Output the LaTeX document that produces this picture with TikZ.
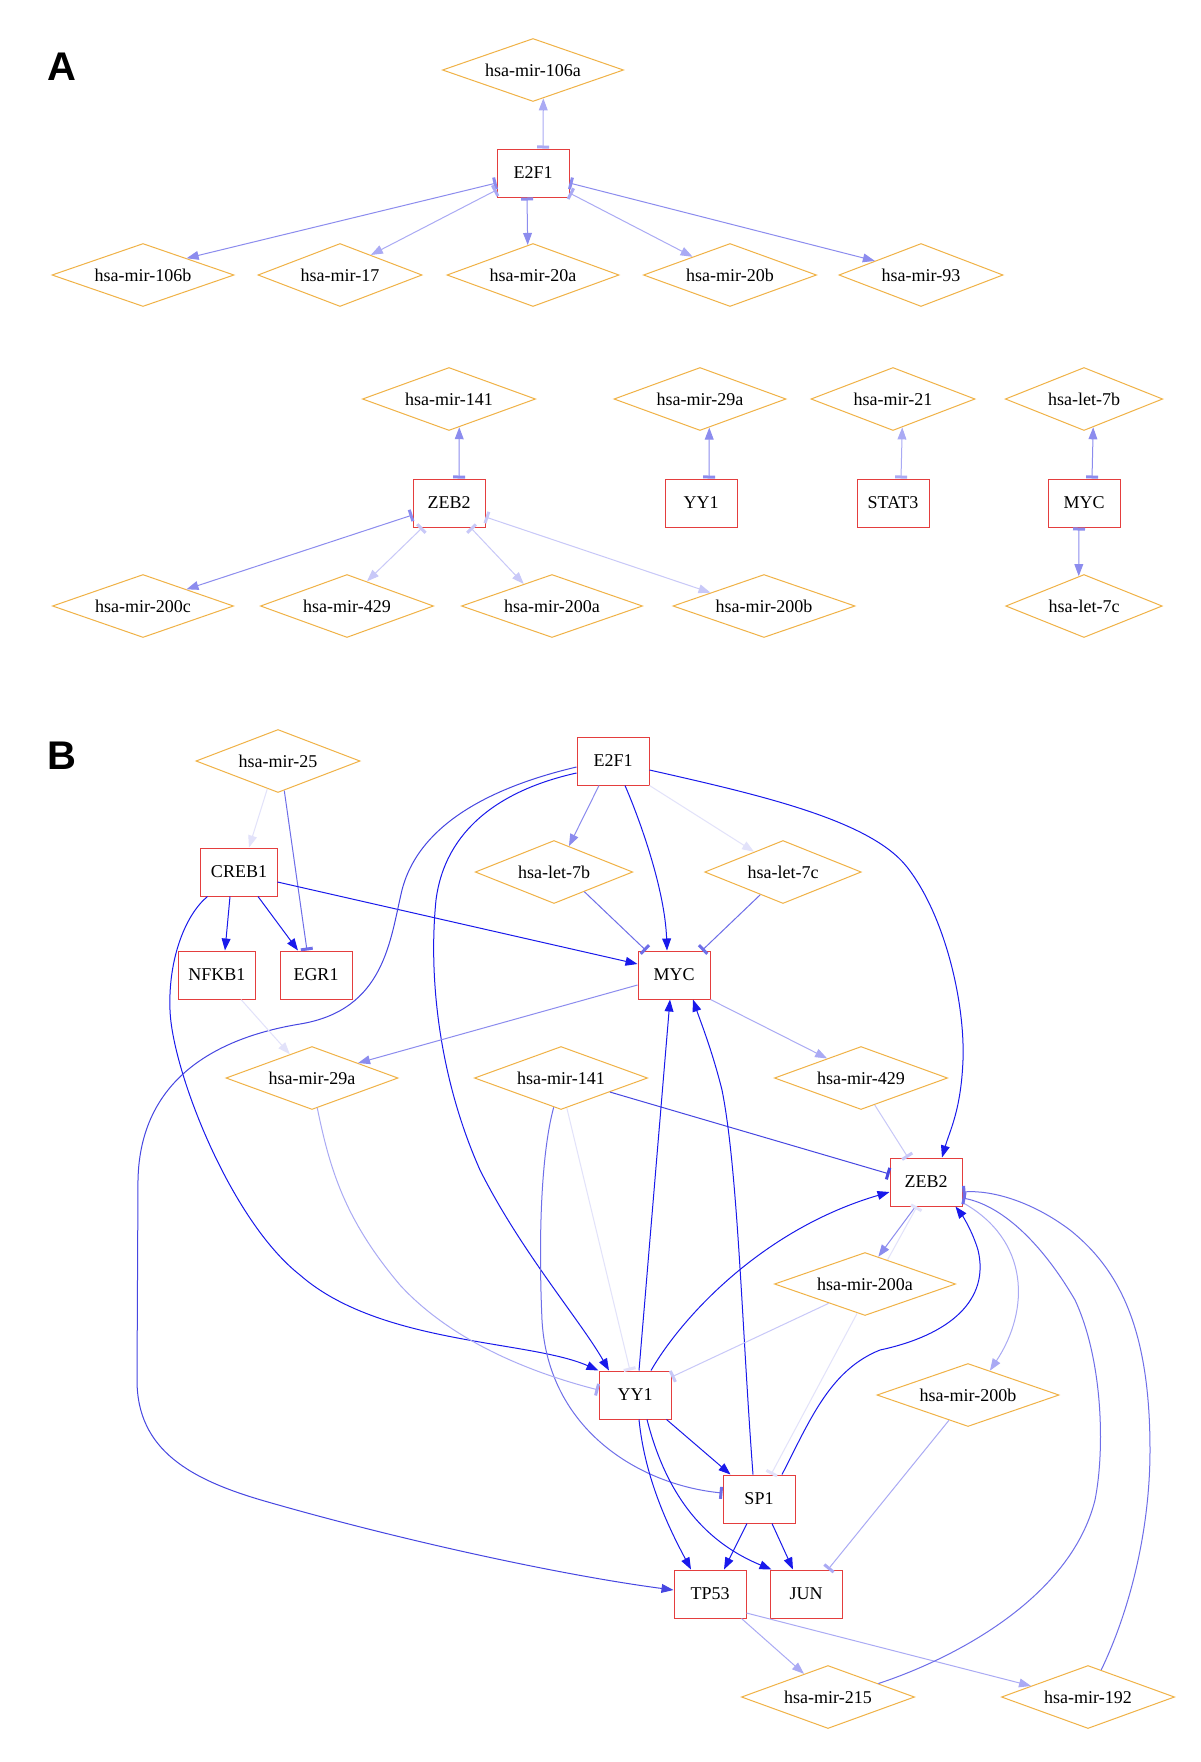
\documentclass[tikz,border=0pt]{standalone}
\usepackage{fontspec}
\setmainfont{Liberation Serif}
\newfontfamily\panelfont{Liberation Sans}
\usetikzlibrary{shapes.geometric, arrows.meta}

\definecolor{boxred}{RGB}{228,62,62}
\definecolor{mirorange}{RGB}{240,178,70}
\definecolor{bdark}{RGB}{25,25,235}
\definecolor{bmdark}{RGB}{70,70,225}
\definecolor{bmid}{RGB}{110,110,232}
\definecolor{bmlight}{RGB}{140,140,238}
\definecolor{blight}{RGB}{170,170,244}
\definecolor{bvlight}{RGB}{200,200,248}
\definecolor{bxlight}{RGB}{226,226,250}

\tikzset{
  gene/.style={draw=boxred, line width=0.5pt, minimum width=36pt, minimum height=24pt,
    inner xsep=5pt, font=\fontsize{9}{10}\selectfont},
  mirna/.style={draw=mirorange, line width=0.5pt, diamond, aspect=3.1, inner xsep=2pt,
    inner ysep=3pt, minimum height=31.5pt, text height=6.5pt, text depth=0pt,
    font=\fontsize{9}{10}\selectfont},
  act/.style={-{Triangle[length=6pt,width=4.4pt]}, line width=0.5pt},
  inh/.style={-{Bar[width=6pt,line width=1.5pt]}, line width=0.5pt},
  dual/.style={{Bar[width=6pt,line width=1.5pt]}-{Triangle[length=6pt,width=4.4pt]}, line width=0.5pt},
  panel/.style={font=\panelfont\bfseries\fontsize{20}{24}\selectfont}
}

\begin{document}
\begin{tikzpicture}[x=0.5pt, y=-0.5pt]
    \useasboundingbox[fill=white] (0,0) rectangle (1200,1762);

    % Panel labels
    \node[panel] (lblA) at (62,67) {A};
    \node[panel] (lblB) at (62,756) {B};

    % ---------------- Panel A ----------------
    % E2F1 cluster
    \node[mirna] (a-106a) at (533,70) {hsa-mir-106a};
    \node[gene] (a-E2F1) at (533,173) {E2F1};
    \foreach \n/\x in {106b/143, 17/340, 20a/533, 20b/730, 93/921} {
        \node[mirna] (a-\n) at (\x,275) {hsa-mir-\n};
    }

    % small clusters
    \foreach \n/\x in {141/449, 29a/700, 21/893} {
        \node[mirna] (a-\n) at (\x,399) {hsa-mir-\n};
    }
    \node[mirna] (a-let7b) at (1084,399) {hsa-let-7b};
    \foreach \n/\x in {ZEB2/449, YY1/701, STAT3/893, MYC/1084} {
        \node[gene] (a-\n) at (\x,503) {\n};
    }
    \foreach \n/\x in {200c/143, 429/347, 200a/552, 200b/764} {
        \node[mirna] (a-\n) at (\x,606) {hsa-mir-\n};
    }
    \node[mirna] (a-let7c) at (1084,606) {hsa-let-7c};

    % E2F1 links
    \draw[dual, blight] ([xshift=5pt]a-E2F1.north) -- (a-106a.-70);
    \draw[dual, bmlight] ([yshift=-5pt]a-E2F1.west) -- (a-106b.21);
    \draw[dual, blight] ([yshift=-8.5pt]a-E2F1.west) -- (a-17.33);
    \draw[dual, bmlight] ([xshift=-3pt]a-E2F1.south) -- (a-20a.100);
    \draw[dual, blight] ([yshift=-10pt]a-E2F1.east) -- (a-20b.154);
    \draw[dual, bmlight] ([yshift=-5pt]a-E2F1.east) -- (a-93.163);

    % ZEB2 links
    \draw[dual, bmlight] ([xshift=5pt]a-ZEB2.north) -- (a-141.-70);
    \draw[dual, bmlight] ([yshift=-6pt]a-ZEB2.west) -- (a-200c.21);
    \draw[dual, bvlight] ([xshift=5pt]a-ZEB2.south west) -- (a-429.51);
    \draw[dual, bvlight] ([xshift=-7.5pt]a-ZEB2.south east) -- (a-200a.142);
    \draw[dual, bvlight] ([yshift=-7pt]a-ZEB2.east) -- (a-200b.166);

    % single pairs
    \draw[dual, bmlight] ([xshift=4pt]a-YY1.north) -- (a-29a.-72);
    \draw[dual, blight] ([xshift=4pt]a-STAT3.north) -- (a-21.-72);
    \draw[dual, bmlight] ([xshift=4pt]a-MYC.north) -- (a-let7b.-72);
    \draw[dual, bmlight] ([xshift=-2.5pt]a-MYC.south) -- (a-let7c.100);

    % ---------------- Panel B ----------------
    \node[mirna] (b-25) at (278,761) {hsa-mir-25};
    \node[gene] (b-e2f1) at (613,761) {E2F1};
    \node[gene] (b-creb1) at (239,872) {CREB1};
    \node[mirna] (b-let7b) at (554,872) {hsa-let-7b};
    \node[mirna] (b-let7c) at (783,872) {hsa-let-7c};
    \node[gene] (b-nfkb1) at (217,975) {NFKB1};
    \node[gene] (b-egr1) at (316,975) {EGR1};
    \node[gene] (b-myc) at (674,975) {MYC};
    \node[mirna] (b-29a) at (312,1078) {hsa-mir-29a};
    \node[mirna] (b-141) at (561,1078) {hsa-mir-141};
    \node[mirna] (b-429) at (861,1078) {hsa-mir-429};
    \node[gene] (b-zeb2) at (926,1182) {ZEB2};
    \node[mirna] (b-200a) at (865,1284) {hsa-mir-200a};
    \node[gene] (b-yy1) at (635,1395) {YY1};
    \node[mirna] (b-200b) at (968,1395) {hsa-mir-200b};
    \node[gene] (b-sp1) at (759,1499) {SP1};
    \node[gene] (b-tp53) at (710,1594) {TP53};
    \node[gene] (b-jun) at (806,1594) {JUN};
    \node[mirna] (b-215) at (828,1697) {hsa-mir-215};
    \node[mirna] (b-192) at (1088,1697) {hsa-mir-192};

    % hsa-mir-25
    \draw[act, bxlight] (b-25.-111) -- ([xshift=5pt]b-creb1.north);
    \draw[inh, bmid] (b-25.-78) -- ([xshift=-4.5pt]b-egr1.north);

    % CREB1 targets
    \draw[act, bdark] ([xshift=-4.5pt]b-creb1.south) -- ([xshift=4pt]b-nfkb1.north);
    \draw[act, bdark] ([xshift=9.5pt]b-creb1.south) -- ([xshift=-9pt]b-egr1.north);
    \draw[act, bdark] ([yshift=-5pt]b-creb1.east) -- ([yshift=5.5pt]b-myc.west);
    \draw[act, bdark] ([xshift=3.5pt]b-creb1.south west) .. controls (185,915) and (168,960) .. (170,1010)
        .. controls (172,1070) and (230,1220) .. (300,1275)
        .. controls (380,1345) and (530,1340) .. (b-yy1.north west);

    % E2F1 targets
    \draw[act, bmlight] ([xshift=-7pt]b-e2f1.south) -- (b-let7b.60);
    \draw[act, bdark] ([xshift=6pt]b-e2f1.south) .. controls (640,820) and (665,890) .. ([xshift=-3.5pt]b-myc.north);
    \draw[act, bxlight] (b-e2f1.south east) -- (b-let7c.145);
    \draw[act, bdark] ([yshift=-4.5pt]b-e2f1.east) .. controls (760,795) and (870,820) .. (907,867)
        .. controls (944,914) and (965,1000) .. (963,1060)
        .. controls (961,1110) and (950,1130) .. ([xshift=8pt]b-zeb2.north);
    \draw[act, bmdark] ([yshift=-3pt]b-e2f1.west) .. controls (500,785) and (420,820) .. (402,890)
        .. controls (390,940) and (385,1010) .. (300,1024)
        .. controls (215,1038) and (140,1080) .. (138,1180) -- (137,1380)
        .. controls (137,1450) and (190,1480) .. (268,1502)
        .. controls (400,1540) and (560,1575) .. ([yshift=2pt]b-tp53.west);
    \draw[act, bdark] ([yshift=-6pt]b-e2f1.west) .. controls (500,790) and (445,830) .. (436,900)
        .. controls (428,980) and (440,1080) .. (480,1170)
        .. controls (520,1250) and (580,1320) .. ([xshift=-13pt]b-yy1.north);

    % let-7 on MYC
    \draw[inh, bmid] (b-let7b.-33) -- ([xshift=-14pt]b-myc.north);
    \draw[inh, bmid] (b-let7c.-135) -- ([xshift=14pt]b-myc.north);

    % towards hsa-mir-29a and hsa-mir-429
    \draw[act, bxlight] ([xshift=12pt]b-nfkb1.south) -- (b-29a.133);
    \draw[act, bmlight] ([yshift=-5pt]b-myc.west) -- (b-29a.18);
    \draw[act, blight] (b-myc.south east) -- (b-429.150);

    % miRNAs of the middle row
    \draw[inh, bmdark] (b-141.-16) -- ([yshift=4pt]b-zeb2.west);
    \draw[inh, bvlight] (b-429.-63) -- ([xshift=-9pt]b-zeb2.north);
    \draw[inh, bxlight] (b-141.-79) -- ([xshift=-2.5pt]b-yy1.north);
    \draw[inh, bmid] (b-141.-104) .. controls (542,1150) and (538,1230) .. (542,1320)
        .. controls (548,1430) and (640,1485) .. ([yshift=3pt]b-sp1.west);
    \draw[inh, blight] (b-29a.-80) .. controls (330,1170) and (345,1220) .. (400,1285)
        .. controls (455,1345) and (540,1375) .. ([yshift=2.5pt]b-yy1.west);

    % YY1 and SP1 upwards
    \draw[act, bdark] ([xshift=2pt]b-yy1.north) -- ([xshift=-2pt]b-myc.south);
    \draw[act, bdark] ([xshift=-3pt]b-sp1.north) .. controls (742,1330) and (738,1170) .. (722,1090)
        .. controls (712,1050) and (700,1020) .. ([xshift=9.5pt]b-myc.south);
    \draw[act, bdark] ([xshift=8pt]b-yy1.north) .. controls (680,1320) and (760,1230) .. ([yshift=-5pt]b-zeb2.west);
    \draw[act, bdark] ([xshift=11.5pt]b-sp1.north) .. controls (810,1420) and (830,1370) .. (880,1350)
        .. controls (950,1335) and (990,1300) .. (978,1250)
        .. controls (972,1230) and (962,1215) .. ([xshift=-3.5pt]b-zeb2.south east);

    % ZEB2 and the miR-200 family
    \draw[act, bmlight] ([xshift=13pt]b-zeb2.south west) -- (b-200a.64);
    \draw[inh, bxlight] (b-200a.47) -- ([xshift=-4.5pt]b-zeb2.south);
    \draw[act, blight] ([yshift=2pt]b-zeb2.south east) .. controls (1030,1240) and (1030,1310) .. (b-200b.48);
    \draw[inh, bvlight] (b-200a.-152) -- ([yshift=9pt]b-yy1.east);
    \draw[inh, bxlight] (b-200a.-105) -- ([xshift=6pt]b-sp1.north);

    % YY1 and SP1 downwards
    \draw[act, bdark] ([xshift=-2.5pt]b-yy1.south east) -- ([xshift=4pt]b-sp1.north west);
    \draw[act, bdark] ([xshift=2pt]b-yy1.south) .. controls (645,1480) and (670,1530) .. ([xshift=-9.5pt]b-tp53.north);
    \draw[act, bdark] ([xshift=6pt]b-yy1.south) .. controls (665,1490) and (700,1540) .. ([xshift=1pt]b-jun.north west);
    \draw[act, bdark] ([xshift=-6pt]b-sp1.south) -- ([xshift=7pt]b-tp53.north);
    \draw[act, bdark] ([xshift=6.5pt]b-sp1.south) -- ([xshift=-6.5pt]b-jun.north);
    \draw[inh, blight] (b-200b.-127) -- ([xshift=11pt]b-jun.north);

    % TP53 targets and feedback on ZEB2
    \draw[act, blight] ([xshift=-2.5pt]b-tp53.south east) -- (b-215.136);
    \draw[act, blight] ([yshift=-9.5pt]b-tp53.east) -- (b-192.169);
    \draw[inh, bmid] (b-215.15) .. controls (950,1660) and (1070,1600) .. (1095,1500)
        .. controls (1105,1450) and (1103,1360) .. (1075,1300)
        .. controls (1040,1240) and (1000,1205) .. ([yshift=-8pt]b-zeb2.east);
    \draw[inh, bmid] (b-192.64) .. controls (1130,1610) and (1150,1530) .. (1150,1450)
        .. controls (1150,1330) and (1120,1270) .. (1070,1230)
        .. controls (1030,1200) and (990,1190) .. ([yshift=-5pt]b-zeb2.east);
\end{tikzpicture}
\end{document}
